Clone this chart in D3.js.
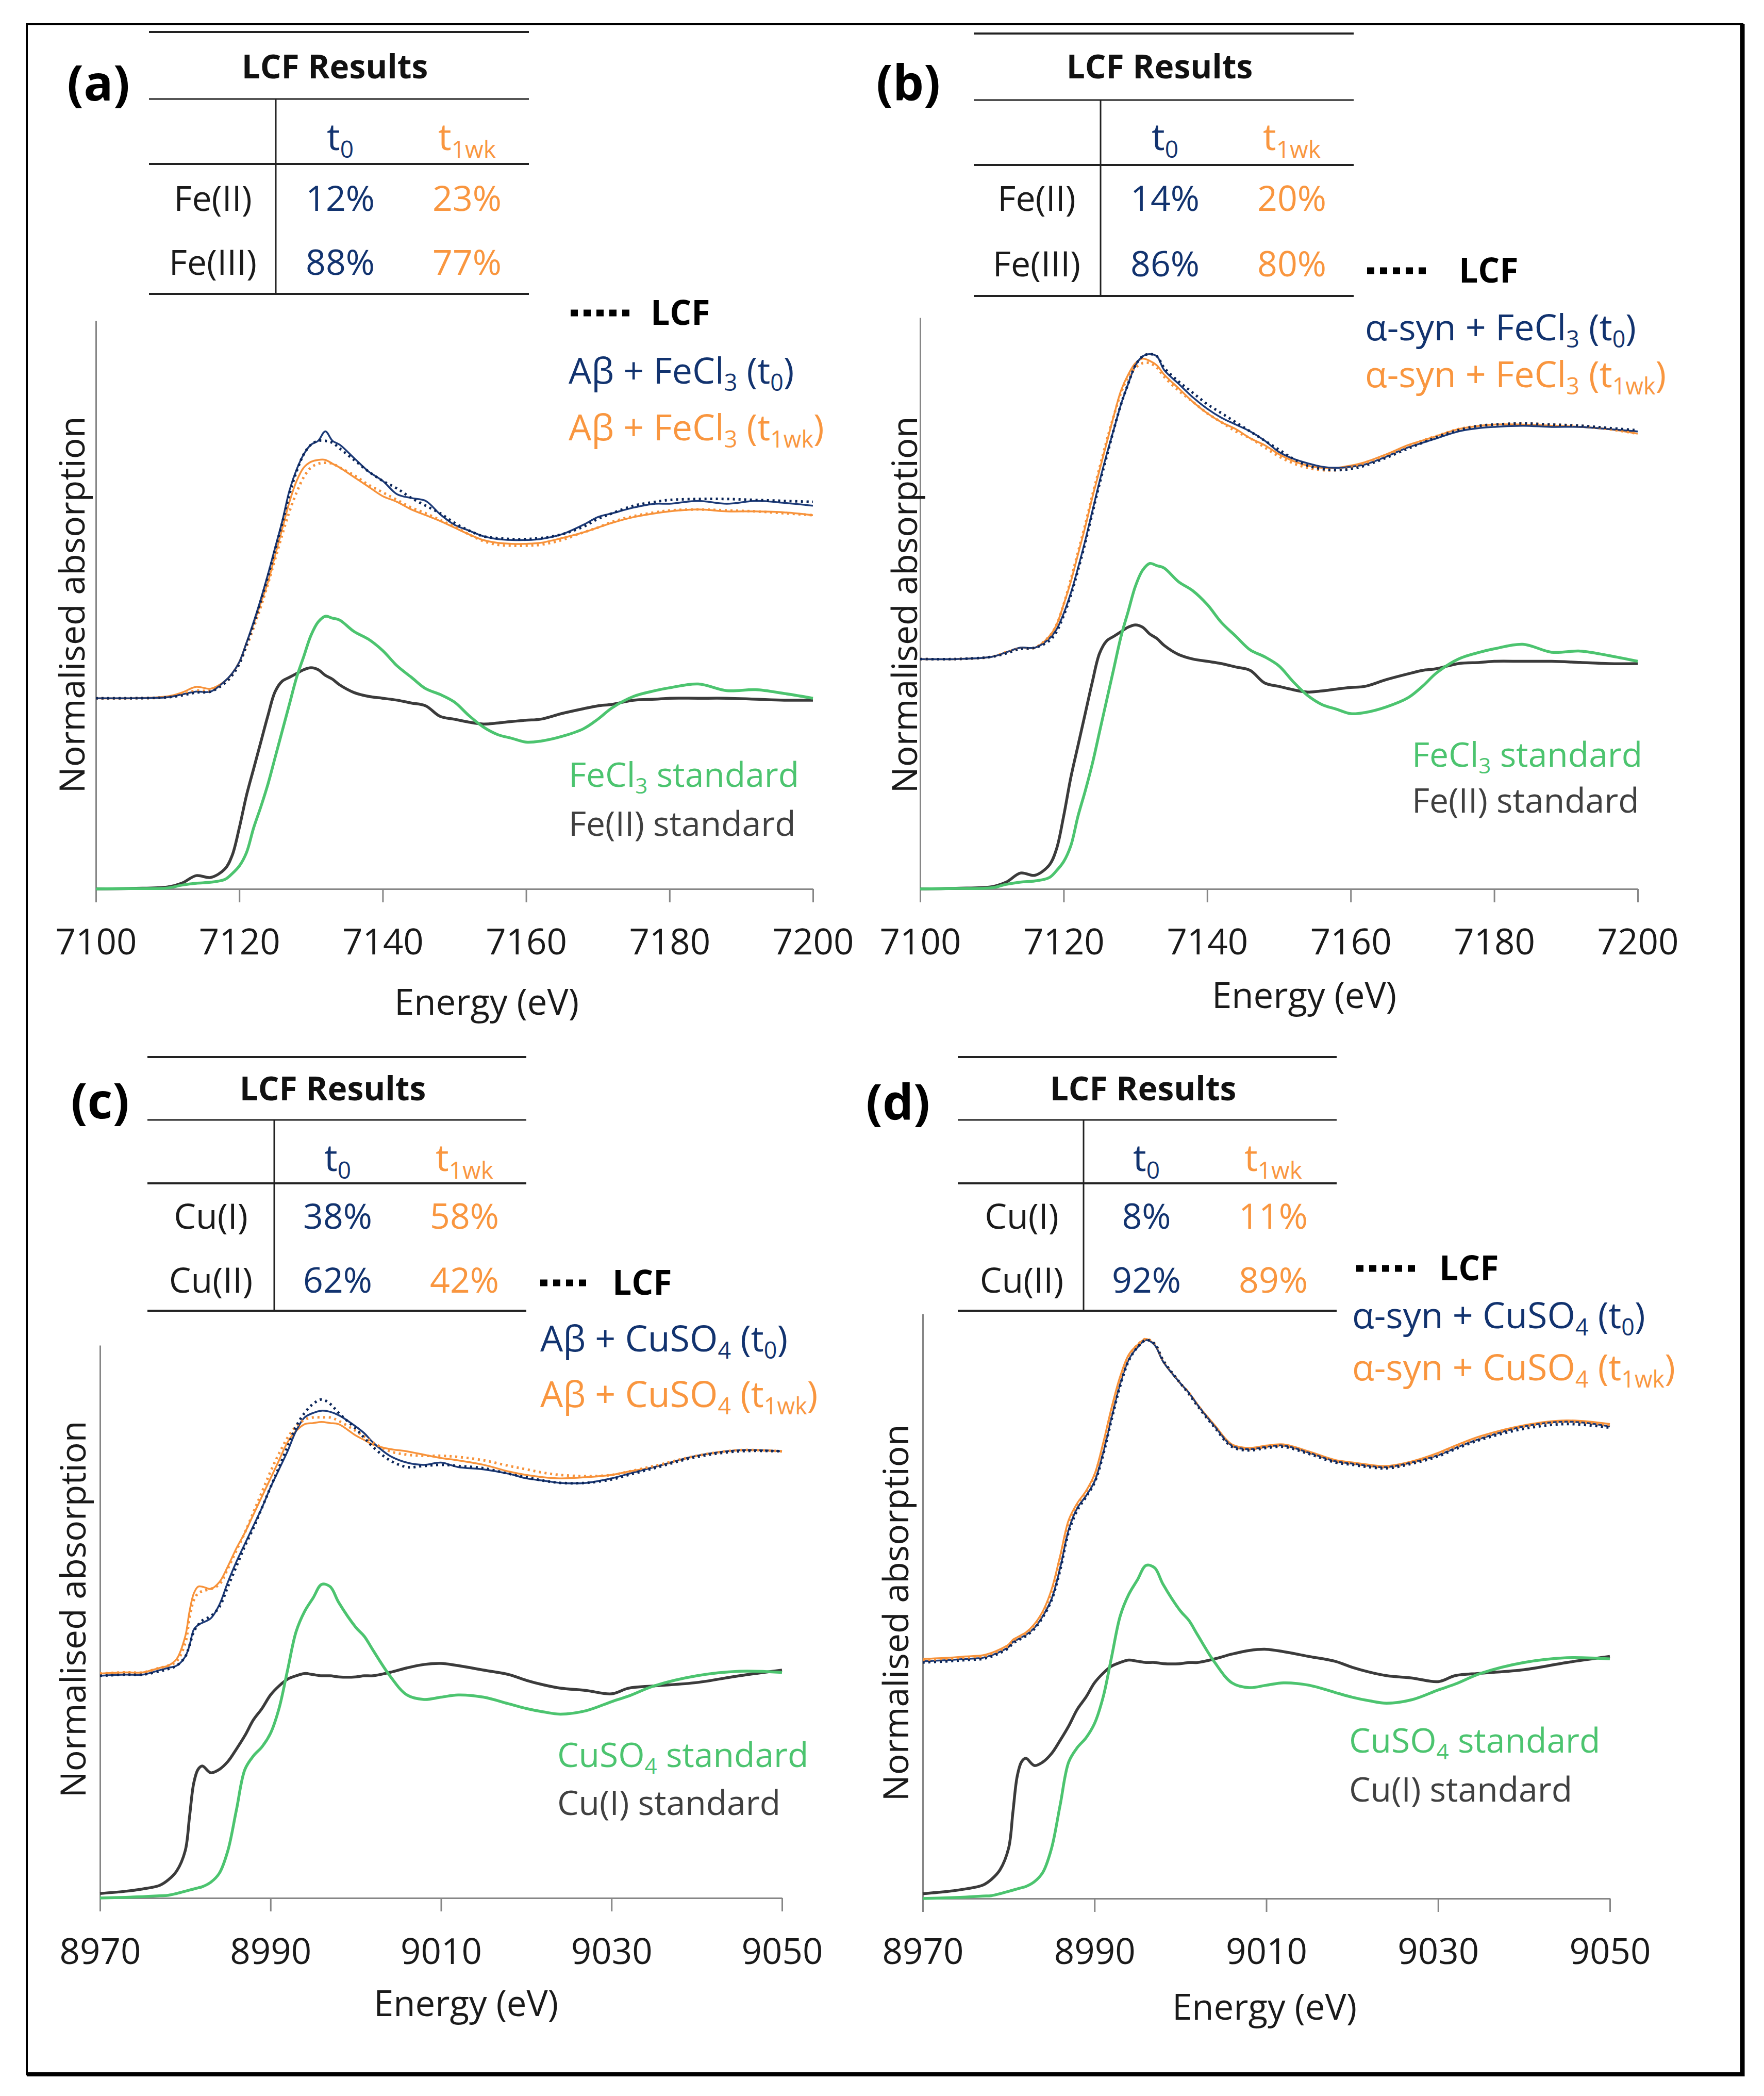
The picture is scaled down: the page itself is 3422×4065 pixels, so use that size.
<!DOCTYPE html>
<html>
<head>
<meta charset="utf-8">
<script src="https://cdnjs.cloudflare.com/ajax/libs/d3/7.8.5/d3.min.js"></script>
<style>
  body { margin: 0; background: #fff; }
  svg { display: block; }
  text { font-family: "Open Sans", "DejaVu Sans", sans-serif; }
</style>
</head>
<body>
<div id="chart"></div>
<script>
// XANES spectra with LCF results, four panels (Fe K-edge: a, b; Cu K-edge: c, d)

// ---- Fe K-edge data (energy in eV, normalised absorption; samples offset by +1) ----
const feEnergy = [7100, 7105, 7110, 7112, 7114, 7116, 7118, 7119, 7120, 7121, 7122, 7123, 7124, 7125, 7126, 7127, 7128, 7129, 7130, 7131, 7132, 7133, 7134, 7136, 7138, 7140, 7142, 7144, 7146, 7148, 7150, 7152, 7154, 7156, 7158, 7160, 7162, 7165, 7168, 7170, 7172, 7175, 7178, 7180, 7184, 7188, 7192, 7196, 7200];
const feIIStd = [0, 0.003, 0.01, 0.03, 0.07, 0.06, 0.105, 0.175, 0.32, 0.49, 0.63, 0.77, 0.91, 1.035, 1.09, 1.11, 1.13, 1.15, 1.16, 1.15, 1.12, 1.10, 1.07, 1.03, 1.01, 1.0, 0.99, 0.975, 0.96, 0.905, 0.89, 0.875, 0.865, 0.87, 0.878, 0.885, 0.89, 0.92, 0.945, 0.96, 0.968, 0.99, 0.995, 1.0, 1.0, 1.0, 0.995, 0.99, 0.99];
const feCl3Std = [0, 0.002, 0.005, 0.02, 0.03, 0.035, 0.05, 0.08, 0.12, 0.19, 0.32, 0.43, 0.55, 0.69, 0.83, 0.97, 1.11, 1.22, 1.33, 1.40, 1.43, 1.42, 1.41, 1.35, 1.31, 1.25, 1.17, 1.11, 1.05, 1.02, 0.98, 0.91, 0.85, 0.81, 0.79, 0.77, 0.775, 0.80, 0.84, 0.89, 0.95, 1.01, 1.04, 1.055, 1.075, 1.04, 1.045, 1.025, 1.0];

const abFeT0 = [1.0, 1.0, 1.005, 1.02, 1.035, 1.035, 1.09, 1.13, 1.19, 1.29, 1.40, 1.52, 1.65, 1.79, 1.93, 2.09, 2.20, 2.28, 2.33, 2.35, 2.40, 2.35, 2.33, 2.26, 2.19, 2.14, 2.07, 2.05, 2.035, 1.965, 1.91, 1.88, 1.85, 1.835, 1.83, 1.83, 1.835, 1.86, 1.91, 1.95, 1.97, 2.0, 2.02, 2.02, 2.035, 2.02, 2.035, 2.025, 2.01];
const abFeLcfT0 = [1.0, 1.0, 1.005, 1.015, 1.03, 1.035, 1.08, 1.12, 1.18, 1.28, 1.39, 1.51, 1.64, 1.78, 1.92, 2.07, 2.19, 2.28, 2.33, 2.35, 2.35, 2.34, 2.31, 2.25, 2.19, 2.14, 2.10, 2.05, 2.01, 1.97, 1.92, 1.88, 1.85, 1.84, 1.835, 1.835, 1.84, 1.86, 1.90, 1.94, 1.97, 2.01, 2.03, 2.04, 2.045, 2.045, 2.04, 2.035, 2.03];
const abFeT1 = [1.0, 1.0, 1.01, 1.03, 1.06, 1.05, 1.09, 1.13, 1.19, 1.29, 1.39, 1.50, 1.61, 1.75, 1.89, 2.03, 2.14, 2.21, 2.24, 2.25, 2.25, 2.23, 2.21, 2.16, 2.11, 2.06, 2.03, 1.99, 1.96, 1.93, 1.895, 1.86, 1.83, 1.815, 1.81, 1.81, 1.815, 1.84, 1.87, 1.895, 1.92, 1.95, 1.97, 1.98, 1.99, 1.98, 1.98, 1.975, 1.96];
const abFeLcfT1 = [1.0, 1.0, 1.005, 1.02, 1.04, 1.04, 1.08, 1.12, 1.18, 1.27, 1.37, 1.48, 1.60, 1.73, 1.86, 1.98, 2.08, 2.16, 2.21, 2.23, 2.235, 2.23, 2.21, 2.17, 2.12, 2.08, 2.04, 2.0, 1.97, 1.935, 1.90, 1.86, 1.825, 1.805, 1.80, 1.80, 1.805, 1.83, 1.87, 1.895, 1.925, 1.955, 1.975, 1.985, 1.99, 1.985, 1.98, 1.97, 1.96];

const synFeT0 = [1.01, 1.01, 1.02, 1.04, 1.06, 1.06, 1.10, 1.14, 1.21, 1.30, 1.41, 1.53, 1.66, 1.79, 1.91, 2.02, 2.13, 2.22, 2.30, 2.34, 2.35, 2.34, 2.28, 2.22, 2.16, 2.11, 2.07, 2.04, 2.01, 1.97, 1.92, 1.89, 1.87, 1.855, 1.85, 1.855, 1.865, 1.90, 1.94, 1.96, 1.98, 2.01, 2.025, 2.03, 2.035, 2.03, 2.03, 2.02, 2.01];
const synFeLcfT0 = [1.01, 1.01, 1.02, 1.035, 1.055, 1.06, 1.09, 1.13, 1.20, 1.29, 1.40, 1.52, 1.65, 1.78, 1.90, 2.02, 2.13, 2.22, 2.30, 2.34, 2.35, 2.34, 2.29, 2.23, 2.18, 2.13, 2.09, 2.05, 2.01, 1.97, 1.93, 1.89, 1.86, 1.845, 1.84, 1.845, 1.86, 1.895, 1.935, 1.96, 1.985, 2.015, 2.035, 2.04, 2.045, 2.04, 2.035, 2.025, 2.015];
const synFeT1 = [1.01, 1.01, 1.02, 1.04, 1.06, 1.06, 1.11, 1.16, 1.25, 1.35, 1.47, 1.59, 1.72, 1.84, 1.96, 2.08, 2.19, 2.26, 2.31, 2.33, 2.32, 2.30, 2.26, 2.20, 2.14, 2.09, 2.05, 2.02, 1.98, 1.95, 1.91, 1.88, 1.86, 1.85, 1.85, 1.86, 1.875, 1.91, 1.95, 1.97, 1.99, 2.02, 2.035, 2.04, 2.04, 2.035, 2.03, 2.02, 2.0];
const synFeLcfT1 = [1.01, 1.01, 1.02, 1.04, 1.055, 1.06, 1.11, 1.16, 1.25, 1.36, 1.48, 1.60, 1.73, 1.85, 1.97, 2.08, 2.18, 2.25, 2.29, 2.31, 2.31, 2.29, 2.25, 2.19, 2.14, 2.09, 2.05, 2.01, 1.98, 1.94, 1.90, 1.87, 1.85, 1.84, 1.84, 1.85, 1.87, 1.905, 1.945, 1.97, 1.99, 2.02, 2.035, 2.04, 2.045, 2.04, 2.035, 2.02, 2.0];

// ---- Cu K-edge data ----
const cuEnergy = [8970, 8973, 8975, 8977, 8978, 8979, 8980, 8980.5, 8981, 8981.5, 8982, 8983, 8984, 8985, 8986, 8987, 8988, 8989, 8990, 8991, 8992, 8993, 8994, 8995, 8996, 8997, 8998, 9000, 9001, 9002, 9004, 9006, 9008, 9010, 9012, 9015, 9018, 9020, 9022, 9024, 9027, 9030, 9032, 9035, 9040, 9045, 9050];
const cuIStd = [0.02, 0.03, 0.04, 0.056, 0.08, 0.12, 0.21, 0.36, 0.51, 0.57, 0.585, 0.555, 0.57, 0.605, 0.66, 0.72, 0.79, 0.84, 0.90, 0.94, 0.97, 0.985, 0.995, 0.99, 0.985, 0.985, 0.98, 0.98, 0.985, 0.985, 1.0, 1.02, 1.035, 1.04, 1.03, 1.01, 0.99, 0.965, 0.945, 0.93, 0.92, 0.905, 0.93, 0.94, 0.955, 0.985, 1.01];
const cuSO4Std = [0, 0.003, 0.006, 0.01, 0.012, 0.02, 0.03, 0.035, 0.04, 0.045, 0.05, 0.07, 0.11, 0.21, 0.39, 0.57, 0.63, 0.67, 0.73, 0.84, 1.01, 1.18, 1.27, 1.33, 1.39, 1.38, 1.31, 1.20, 1.16, 1.10, 0.985, 0.90, 0.88, 0.89, 0.90, 0.89, 0.86, 0.84, 0.825, 0.815, 0.83, 0.87, 0.895, 0.94, 0.985, 1.005, 1.0];

const abCuT0 = [0.985, 0.99, 0.99, 1.01, 1.02, 1.03, 1.07, 1.12, 1.19, 1.21, 1.22, 1.24, 1.30, 1.40, 1.49, 1.57, 1.65, 1.73, 1.82, 1.90, 1.98, 2.07, 2.13, 2.15, 2.16, 2.155, 2.14, 2.09, 2.06, 2.02, 1.96, 1.93, 1.92, 1.93, 1.91, 1.90, 1.88, 1.86, 1.85, 1.84, 1.84, 1.86, 1.88, 1.91, 1.96, 1.985, 1.98];
const abCuLcfT0 = [0.985, 0.99, 0.99, 1.005, 1.015, 1.03, 1.07, 1.12, 1.18, 1.21, 1.23, 1.25, 1.29, 1.38, 1.47, 1.56, 1.64, 1.73, 1.82, 1.91, 2.0, 2.09, 2.15, 2.19, 2.21, 2.19, 2.15, 2.08, 2.04, 2.0, 1.94, 1.91, 1.915, 1.92, 1.915, 1.905, 1.88, 1.865, 1.85, 1.84, 1.84, 1.855, 1.875, 1.905, 1.955, 1.98, 1.98];
const abCuT1 = [0.995, 1.0, 1.0, 1.02, 1.03, 1.06, 1.16, 1.27, 1.35, 1.38, 1.38, 1.37, 1.40, 1.47, 1.55, 1.62, 1.70, 1.78, 1.86, 1.94, 2.02, 2.07, 2.10, 2.105, 2.11, 2.105, 2.10, 2.05, 2.03, 2.01, 1.99, 1.98, 1.965, 1.95, 1.94, 1.92, 1.89, 1.875, 1.865, 1.86, 1.865, 1.875, 1.89, 1.91, 1.96, 1.985, 1.98];
const abCuLcfT1 = [0.995, 1.0, 1.0, 1.02, 1.03, 1.05, 1.13, 1.24, 1.32, 1.35, 1.36, 1.37, 1.39, 1.46, 1.54, 1.62, 1.71, 1.80, 1.89, 1.97, 2.04, 2.09, 2.12, 2.13, 2.13, 2.13, 2.115, 2.07, 2.045, 2.02, 1.98, 1.965, 1.96, 1.96, 1.955, 1.94, 1.915, 1.90, 1.885, 1.875, 1.87, 1.875, 1.89, 1.915, 1.96, 1.985, 1.98];

const synCuT0 = [0.99, 0.995, 1.0, 1.005, 1.015, 1.03, 1.05, 1.07, 1.08, 1.09, 1.10, 1.13, 1.18, 1.25, 1.38, 1.54, 1.63, 1.68, 1.74, 1.86, 2.01, 2.15, 2.25, 2.30, 2.33, 2.31, 2.24, 2.15, 2.11, 2.06, 1.97, 1.89, 1.875, 1.885, 1.89, 1.86, 1.825, 1.815, 1.805, 1.80, 1.82, 1.85, 1.88, 1.92, 1.97, 1.99, 1.97];
const synCuLcfT0 = [0.985, 0.99, 0.995, 1.0, 1.01, 1.025, 1.045, 1.065, 1.075, 1.085, 1.095, 1.125, 1.175, 1.245, 1.37, 1.53, 1.62, 1.675, 1.735, 1.85, 2.0, 2.14, 2.245, 2.30, 2.33, 2.315, 2.245, 2.15, 2.105, 2.055, 1.965, 1.885, 1.87, 1.88, 1.885, 1.855, 1.82, 1.81, 1.80, 1.795, 1.815, 1.845, 1.875, 1.915, 1.96, 1.98, 1.965];
const synCuT1 = [1.0, 1.005, 1.01, 1.015, 1.025, 1.04, 1.06, 1.08, 1.09, 1.10, 1.11, 1.145, 1.20, 1.29, 1.43, 1.58, 1.65, 1.70, 1.77, 1.90, 2.05, 2.18, 2.27, 2.31, 2.335, 2.31, 2.24, 2.15, 2.11, 2.06, 1.975, 1.895, 1.88, 1.89, 1.895, 1.865, 1.83, 1.82, 1.81, 1.805, 1.825, 1.86, 1.89, 1.93, 1.975, 1.995, 1.98];
const synCuLcfT1 = [0.995, 1.0, 1.005, 1.01, 1.02, 1.035, 1.055, 1.075, 1.085, 1.095, 1.105, 1.14, 1.195, 1.28, 1.42, 1.57, 1.645, 1.695, 1.765, 1.89, 2.04, 2.17, 2.265, 2.31, 2.335, 2.315, 2.245, 2.15, 2.11, 2.06, 1.97, 1.89, 1.875, 1.885, 1.89, 1.86, 1.825, 1.815, 1.805, 1.80, 1.82, 1.855, 1.885, 1.925, 1.97, 1.99, 1.975];

// ---- tick labels and LCF tables ----
const feTicks = [7100, 7120, 7140, 7160, 7180, 7200];
const cuTicks = [8970, 8990, 9010, 9030, 9050];
const feRows = ["Fe(II)", "Fe(III)"];
const cuRows = ["Cu(I)", "Cu(II)"];
const lcfT0a = ["12%", "88%"], lcfT1a = ["23%", "77%"];
const lcfT0b = ["14%", "86%"], lcfT1b = ["20%", "80%"];
const lcfT0c = ["38%", "62%"], lcfT1c = ["58%", "42%"];
const lcfT0d = ["8%", "92%"], lcfT1d = ["11%", "89%"];

// colours
const navy = "#1d3b78", navyText = "#12336f", navyDot = "#0b2558";
const orange = "#f7923a", orangeText = "#f9963f";
const green = "#4cc46f", grey = "#3b3b3b", axisGrey = "#868686";

const width = 3422, height = 4065;

const svg = d3.select("#chart")
  .append("svg")
  .attr("width", width)
  .attr("height", height);

svg.append("rect").attr("width", width).attr("height", height).attr("fill", "#fff");

// outer frame (thin top/left, heavier right/bottom)
svg.append("rect")
  .attr("x", 52).attr("y", 47).attr("width", 3328).attr("height", 3976)
  .attr("fill", "none").attr("stroke", "#000").attr("stroke-width", 4);
svg.append("line").attr("x1", 3380).attr("x2", 3380).attr("y1", 47).attr("y2", 4027)
  .attr("stroke", "#000").attr("stroke-width", 9);
svg.append("line").attr("x1", 52).attr("x2", 3384).attr("y1", 4023).attr("y2", 4023)
  .attr("stroke", "#000").attr("stroke-width", 8);

// text with subscripts: parts between underscores are subscript
function rich(g, x, y, str, fs, color, opts = {}) {
  const t = g.append("text")
    .attr("x", x)
    .attr("y", y + fs * 0.35)
    .attr("font-size", fs)
    .attr("fill", color)
    .attr("font-weight", opts.bold ? 700 : 400)
    .attr("text-anchor", opts.anchor || "start");
  let shift = 0;
  str.split("_").forEach((part, i) => {
    if (!part) return;
    const sub = i % 2 === 1;
    const target = sub ? fs * 0.2 : 0;
    const ts = t.append("tspan").text(part).attr("dy", target - shift);
    if (sub) ts.attr("font-size", fs * 0.64);
    shift = target;
  });
  return t;
}

const panels = [
  {
    letter: "(a)", letterPos: [191, 162],
    energy: feEnergy, xDomain: [7100, 7200], ticks: feTicks, yMax: 2.98,
    x0: 186, x1: 1577, yTop: 622, yBot: 1724, tickY: 1827,
    title: [944, 1944], ylab: [140, 1173],
    std: [[feIIStd, grey], [feCl3Std, green]],
    samples: [abFeT1, abFeT0], lcf: [abFeLcfT1, abFeLcfT0],
    table: { L: 289, R: 1026, V: 535, lab: 413, c0: 660, c1: 906, lines: [62, 192, 318, 570],
             title: 130, head: 266, rows: [385, 509], rowLabels: feRows, t0: lcfT0a, t1: lcfT1a },
    legend: { dot: [1107, 1223, 607], lcfX: 1262, x: 1103, y0: 719, y1: 829,
              t0: "Aβ + FeCl_3_ (t_0_)", t1: "Aβ + FeCl_3_ (t_1wk_)",
              sx: 1103, sy: [1503, 1598], s0: "FeCl_3_ standard", s1: "Fe(II) standard" }
  },
  {
    letter: "(b)", letterPos: [1762, 161],
    energy: feEnergy, xDomain: [7100, 7200], ticks: feTicks, yMax: 2.51,
    x0: 1785, x1: 3177, yTop: 616, yBot: 1724, tickY: 1827,
    title: [2530, 1931], ylab: [1755, 1173],
    std: [[feIIStd, grey], [feCl3Std, green]],
    samples: [synFeT1, synFeT0], lcf: [synFeLcfT1, synFeLcfT0],
    table: { L: 1889, R: 2626, V: 2135, lab: 2011, c0: 2260, c1: 2506, lines: [65, 194, 320, 574],
             title: 130, head: 266, rows: [385, 512], rowLabels: feRows, t0: lcfT0b, t1: lcfT1b },
    legend: { dot: [2652, 2768, 525], lcfX: 2830, x: 2648, y0: 635, y1: 726,
              t0: "α-syn + FeCl_3_ (t_0_)", t1: "α-syn + FeCl_3_ (t_1wk_)",
              sx: 2739, sy: [1464, 1553], s0: "FeCl_3_ standard", s1: "Fe(II) standard" }
  },
  {
    letter: "(c)", letterPos: [194, 2136],
    energy: cuEnergy, xDomain: [8970, 9050], ticks: cuTicks, yMax: 2.45,
    x0: 194, x1: 1517, yTop: 2609, yBot: 3681, tickY: 3785,
    title: [904, 3886], ylab: [142, 3121],
    std: [[cuIStd, grey], [cuSO4Std, green]],
    samples: [abCuT1, abCuT0], lcf: [abCuLcfT1, abCuLcfT0],
    table: { L: 286, R: 1021, V: 532, lab: 409, c0: 655, c1: 901, lines: [2050, 2172, 2295, 2542],
             title: 2112, head: 2246, rows: [2359, 2483], rowLabels: cuRows, t0: lcfT0c, t1: lcfT1c },
    legend: { dot: [1048, 1141, 2488], lcfX: 1188, x: 1048, y0: 2596, y1: 2704,
              t0: "Aβ + CuSO_4_ (t_0_)", t1: "Aβ + CuSO_4_ (t_1wk_)",
              sx: 1081, sy: [3404, 3497], s0: "CuSO_4_ standard", s1: "Cu(I) standard" }
  },
  {
    letter: "(d)", letterPos: [1742, 2138],
    energy: cuEnergy, xDomain: [8970, 9050], ticks: cuTicks, yMax: 2.44,
    x0: 1790, x1: 3123, yTop: 2548, yBot: 3682, tickY: 3785,
    title: [2453, 3893], ylab: [1738, 3128],
    std: [[cuIStd, grey], [cuSO4Std, green]],
    samples: [synCuT1, synCuT0], lcf: [synCuLcfT1, synCuLcfT0],
    table: { L: 1858, R: 2593, V: 2102, lab: 1982, c0: 2224, c1: 2470, lines: [2050, 2172, 2295, 2542],
             title: 2112, head: 2246, rows: [2359, 2483], rowLabels: cuRows, t0: lcfT0d, t1: lcfT1d },
    legend: { dot: [2631, 2747, 2460], lcfX: 2792, x: 2623, y0: 2551, y1: 2652,
              t0: "α-syn + CuSO_4_ (t_0_)", t1: "α-syn + CuSO_4_ (t_1wk_)",
              sx: 2617, sy: [3376, 3471], s0: "CuSO_4_ standard", s1: "Cu(I) standard" }
  }
];

panels.forEach(p => {
  const g = svg.append("g");

  const x = d3.scaleLinear().domain(p.xDomain).range([p.x0, p.x1]);
  const y = d3.scaleLinear().domain([0, p.yMax]).range([p.yBot, p.yTop]);

  // axes
  const xAxis = g.append("g")
    .attr("transform", `translate(0,${p.yBot})`)
    .call(d3.axisBottom(x).tickValues(p.ticks).tickFormat(d3.format("d")).tickSize(26).tickSizeOuter(0));
  xAxis.select(".domain").attr("stroke", axisGrey).attr("stroke-width", 3);
  xAxis.selectAll(".tick line").attr("stroke", axisGrey).attr("stroke-width", 3);
  xAxis.selectAll(".tick text")
    .attr("y", p.tickY - p.yBot).attr("dy", "0.35em")
    .attr("font-size", 69).attr("fill", "#1a1a1a")
    .attr("font-family", '"Open Sans", sans-serif');

  const yAxis = g.append("g")
    .attr("transform", `translate(${p.x0},0)`)
    .call(d3.axisLeft(y).tickValues([]).tickSizeOuter(0));
  yAxis.select(".domain").attr("stroke", axisGrey).attr("stroke-width", 3);

  g.append("text")
    .attr("x", p.title[0]).attr("y", p.title[1]).attr("dy", "0.35em")
    .attr("text-anchor", "middle").attr("font-size", 69).attr("fill", "#1a1a1a")
    .text("Energy (eV)");

  g.append("text")
    .attr("transform", `translate(${p.ylab[0]},${p.ylab[1]}) rotate(-90)`)
    .attr("dy", "0.35em")
    .attr("text-anchor", "middle").attr("font-size", 68).attr("fill", "#1a1a1a")
    .text("Normalised absorption");

  // spectra
  const line = d3.line()
    .x((d, i) => x(p.energy[i]))
    .y(d => y(d))
    .curve(d3.curveCatmullRom.alpha(0.5));

  p.std.forEach(([vals, col]) => {
    g.append("path").attr("d", line(vals))
      .attr("fill", "none").attr("stroke", col).attr("stroke-width", 5.5)
      .attr("stroke-linejoin", "round");
  });

  const sampleCols = [orange, navy];
  p.samples.forEach((vals, i) => {
    g.append("path").attr("d", line(vals))
      .attr("fill", "none").attr("stroke", sampleCols[i]).attr("stroke-width", 3.5)
      .attr("stroke-linejoin", "round");
  });
  const lcfCols = [orange, navyDot];
  p.lcf.forEach((vals, i) => {
    g.append("path").attr("d", line(vals))
      .attr("fill", "none").attr("stroke", lcfCols[i]).attr("stroke-width", 5)
      .attr("stroke-dasharray", "4 7");
  });

  // panel letter
  g.append("text")
    .attr("x", p.letterPos[0]).attr("y", p.letterPos[1]).attr("dy", "0.35em")
    .attr("text-anchor", "middle").attr("font-size", 95).attr("font-weight", 700)
    .attr("fill", "#000").text(p.letter);

  // LCF results table
  const t = p.table;
  t.lines.forEach((ly, i) => {
    g.append("line")
      .attr("x1", t.L).attr("x2", t.R).attr("y1", ly).attr("y2", ly)
      .attr("stroke", "#222").attr("stroke-width", i === 1 ? 3 : 4);
  });
  g.append("line")
    .attr("x1", t.V).attr("x2", t.V).attr("y1", t.lines[1]).attr("y2", t.lines[3])
    .attr("stroke", "#222").attr("stroke-width", 3);
  rich(g, (t.L + t.R) / 2 - 8, t.title, "LCF Results", 64, "#111", { bold: true, anchor: "middle" });
  rich(g, t.c0, t.head, "t_0_", 72, navyText, { anchor: "middle" });
  rich(g, t.c1, t.head, "t_1wk_", 72, orangeText, { anchor: "middle" });
  t.rows.forEach((ry, i) => {
    rich(g, t.lab, ry, t.rowLabels[i], 68, "#1a1a1a", { anchor: "middle" });
    rich(g, t.c0, ry, t.t0[i], 68, navyText, { anchor: "middle" });
    rich(g, t.c1, ry, t.t1[i], 68, orangeText, { anchor: "middle" });
  });

  // legend
  const L = p.legend;
  g.append("line")
    .attr("x1", L.dot[0]).attr("x2", L.dot[1]).attr("y1", L.dot[2]).attr("y2", L.dot[2])
    .attr("stroke", "#000").attr("stroke-width", 13).attr("stroke-dasharray", "14 11");
  rich(g, L.lcfX, L.dot[2], "LCF", 66, "#000", { bold: true });
  rich(g, L.x, L.y0, L.t0, 70, navyText);
  rich(g, L.x, L.y1, L.t1, 70, orangeText);
  rich(g, L.sx, L.sy[0], L.s0, 66, green);
  rich(g, L.sx, L.sy[1], L.s1, 66, "#404040");
});
</script>
</body>
</html>
